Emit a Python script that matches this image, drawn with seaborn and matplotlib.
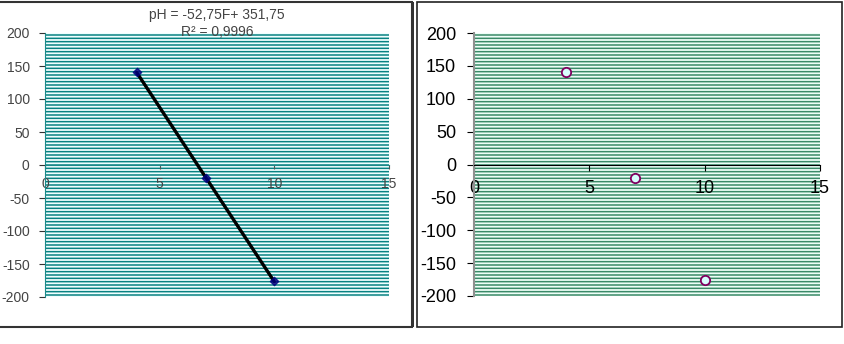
import numpy as np
import pandas as pd
import matplotlib
matplotlib.use("Agg")
import matplotlib.pyplot as plt
import seaborn as sns
from matplotlib.patches import Rectangle

# ========== DATA ==========
F = [4, 7, 10]
pH = [141, -20, -176]
x_ticks = [0, 5, 10, 15]
y_ticks = [-200, -150, -100, -50, 0, 50, 100, 150, 200]
eq_text = "pH = -52,75F+ 351,75"
r2_text = "R² = 0,9996"

df = pd.DataFrame({"F": F, "pH": pH})

# ========== FIGURE ==========
sns.set_style("white")
plt.rcParams["font.family"] = ["Liberation Sans", "DejaVu Sans"]
plt.rcParams["axes.unicode_minus"] = False
plt.rcParams["hatch.linewidth"] = 1.1

fig = plt.figure(figsize=(8.44, 3.44), dpi=100)
ax1 = fig.add_axes([45 / 844, 1 - 297 / 344, 344 / 844, 264 / 344])
ax2 = fig.add_axes([474 / 844, 1 - 296 / 344, 346 / 844, 263 / 344])


def stripes(ax, line, back):
    ax.set_facecolor(back)
    ax.add_patch(Rectangle((0, 0), 1, 1, transform=ax.transAxes,
                           facecolor=back, edgecolor=line, hatch="-----",
                           lw=0, zorder=0))


# --- left: points + linear trendline ---
stripes(ax1, "#088282", "#f0ffff")
sns.regplot(data=df, x="F", y="pH", ax=ax1, ci=None, truncate=True,
            marker="D",
            scatter_kws={"s": 18, "color": "#000080", "zorder": 4},
            line_kws={"color": "black", "lw": 2.4, "zorder": 3})
ax1.set_xlim(0, 15)
ax1.set_ylim(-200, 200)
ax1.set_xticks(x_ticks)
ax1.set_yticks(y_ticks)
ax1.set_xlabel("")
ax1.set_ylabel("")
for s in ["top", "right"]:
    ax1.spines[s].set_visible(False)
ax1.spines["left"].set_color("#1a8a8a")
ax1.spines["bottom"].set_position(("data", 0))
ax1.spines["bottom"].set_color("#1a8a8a")
ax1.tick_params(axis="x", direction="out", length=3, pad=6, labelsize=10,
                labelcolor="#444444", color="#555555", bottom=True)
ax1.tick_params(axis="y", direction="out", length=4, pad=7, labelsize=10,
                labelcolor="#444444", color="#333333", left=True)

fig.text(217 / 844, 1 - 15 / 344, eq_text, ha="center", va="center",
         fontsize=10, color="#444444")
fig.text(217 / 844, 1 - 32 / 344, r2_text, ha="center", va="center",
         fontsize=10, color="#444444")

# --- right: points only ---
stripes(ax2, "#3a8a68", "#eefff8")
sns.scatterplot(data=df, x="F", y="pH", ax=ax2, marker="o", s=45,
                color="#d8ffff", edgecolor="#800060", linewidth=1.3,
                zorder=4)
ax2.set_xlim(0, 15)
ax2.set_ylim(-200, 200)
ax2.set_xticks(x_ticks)
ax2.set_yticks(y_ticks)
ax2.set_xlabel("")
ax2.set_ylabel("")
for s in ["top", "right"]:
    ax2.spines[s].set_visible(False)
ax2.spines["left"].set_color("#909090")
ax2.spines["left"].set_linewidth(1.5)
ax2.spines["bottom"].set_position(("data", 0))
ax2.spines["bottom"].set_color("black")
ax2.tick_params(axis="x", direction="out", length=4, pad=7, labelsize=13,
                labelcolor="black", color="black", bottom=True)
ax2.tick_params(axis="y", direction="out", length=5, pad=8, labelsize=13,
                labelcolor="black", color="black", left=True)

# --- panel frames ---
fig.add_artist(Rectangle((-0.01, 1 - 327 / 344), 412 / 844 + 0.01, 325 / 344,
                         transform=fig.transFigure, fill=False,
                         edgecolor="#333333", lw=1.5))
fig.add_artist(Rectangle((412 / 844, 1 - 327 / 344), 1.5 / 844, 325 / 344,
                         transform=fig.transFigure, facecolor="#333333",
                         edgecolor="none"))
fig.add_artist(Rectangle((417 / 844, 1 - 327 / 344), 425 / 844, 325 / 344,
                         transform=fig.transFigure, fill=False,
                         edgecolor="#222222", lw=1.2))

fig.savefig("out.png", dpi=100)
plt.close(fig)
